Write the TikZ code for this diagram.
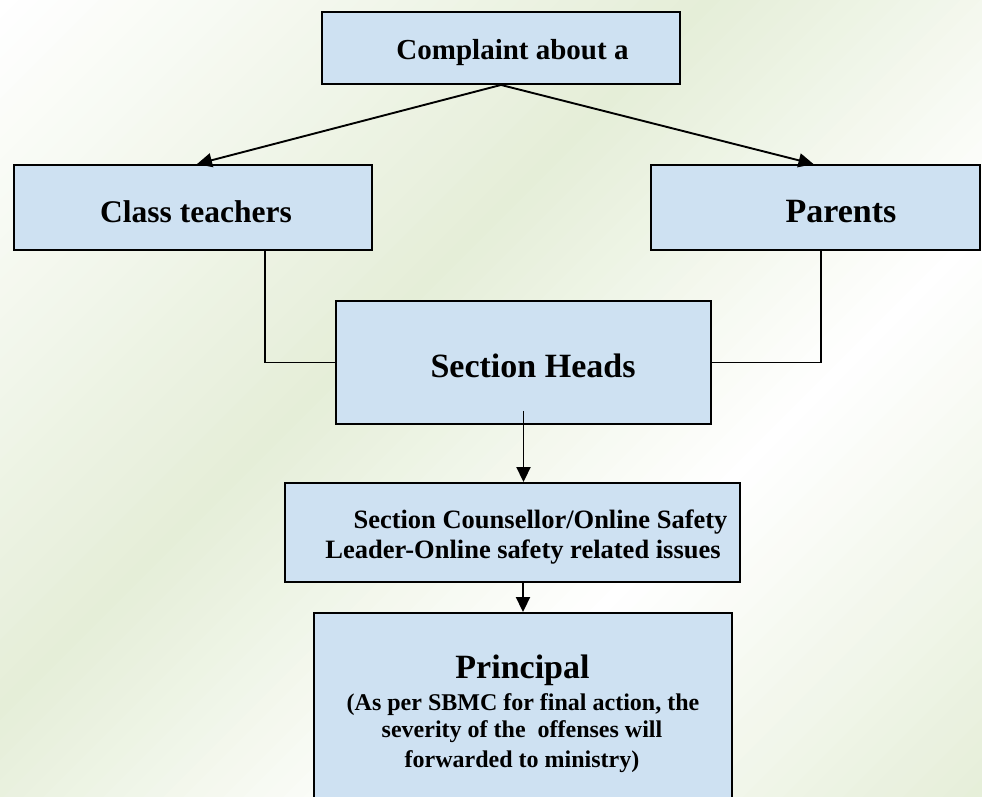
\documentclass[tikz,border=0pt]{standalone}
\usepackage{fontspec}
\setmainfont{Liberation Serif}
\usetikzlibrary{arrows.meta,calc}
\definecolor{bggreen}{RGB}{229,238,216}
\definecolor{boxblue}{RGB}{206,225,242}
\tikzset{
  box/.style={draw=black, line width=1.9pt, fill=boxblue, rectangle, inner sep=0pt},
  txt/.style={anchor=base, inner sep=0pt, font=\bfseries},
  conn/.style={line width=1.9pt, draw=black},
  arr/.style={conn, -{Triangle[length=15pt,width=14pt]}},
}
\begin{document}
\begin{tikzpicture}[x=1pt,y=-1pt]
\useasboundingbox (0,0) rectangle (982,797);
\clip (0,0) rectangle (982,797);
% background gradient
\foreach \t in {0,20,...,1780} {
  \pgfmathsetmacro{\g}{min(100,max(0,ifthenelse(\t<700, \t/7, ifthenelse(\t<1200, (1200-\t)/5, (\t-1200)/5.8))))}
  \fill[bggreen!\g!white] (\t,0) -- (\t+21,0) -- (\t+21-800,800) -- (\t-800,800) -- cycle;
}
% boxes
\node[box, minimum width=358pt, minimum height=72pt] (top) at (501,48) {};
\node[box, minimum width=358pt, minimum height=85pt] (class) at (193,207.5) {};
\node[box, minimum width=329pt, minimum height=85pt] (par) at (815.5,207.5) {};
\node[box, minimum width=375pt, minimum height=123pt] (sh) at (523.5,362.5) {};
\node[box, minimum width=455pt, minimum height=99pt] (cou) at (512.5,532.5) {};
\node[box, minimum width=418pt, minimum height=200pt] (pri) at (523,713) {};
% texts
\node[txt, font=\bfseries\fontsize{29}{34}\selectfont] (ttop) at (512.5,60) {Complaint about a};
\node[txt, font=\bfseries\fontsize{31.5}{36}\selectfont] (tclass) at (196,222) {Class teachers};
\node[txt, font=\bfseries\fontsize{34}{38}\selectfont] (tpar) at (841,222) {Parents};
\node[txt, font=\bfseries\fontsize{34}{38}\selectfont] (tsh) at (533,377) {Section Heads};
\node[txt, font=\bfseries\fontsize{26.5}{30}\selectfont] (tcou1) at (540.5,528) {Section Counsellor/Online Safety};
\node[txt, font=\bfseries\fontsize{26.5}{30}\selectfont] (tcou2) at (523,558) {Leader-Online safety related issues};
\node[txt, font=\bfseries\fontsize{34}{38}\selectfont] (tpri) at (522.5,678) {Principal};
\node[txt, font=\bfseries\fontsize{24}{28}\selectfont] (tpri1) at (523,710) {(As per SBMC for final action, the};
\node[txt, font=\bfseries\fontsize{24}{28}\selectfont] (tpri2) at (522,737) {severity of the~ offenses will};
\node[txt, font=\bfseries\fontsize{24}{28}\selectfont] (tpri3) at (522,767) {forwarded to ministry)};
% connectors
\draw[arr] (top.south) -- ([xshift=4pt]class.north);
\draw[arr] (top.south) -- ([xshift=-2pt]par.north);
\draw[conn] ([xshift=72pt]class.south) |- (sh.west);
\draw[conn] ([xshift=5.5pt]par.south) |- (sh.east);
\draw[arr] ([yshift=14pt]sh.south) -- (sh.south |- cou.north);
\draw[arr] (cou.south -| pri.north) -- (pri.north);
\end{tikzpicture}
\end{document}
